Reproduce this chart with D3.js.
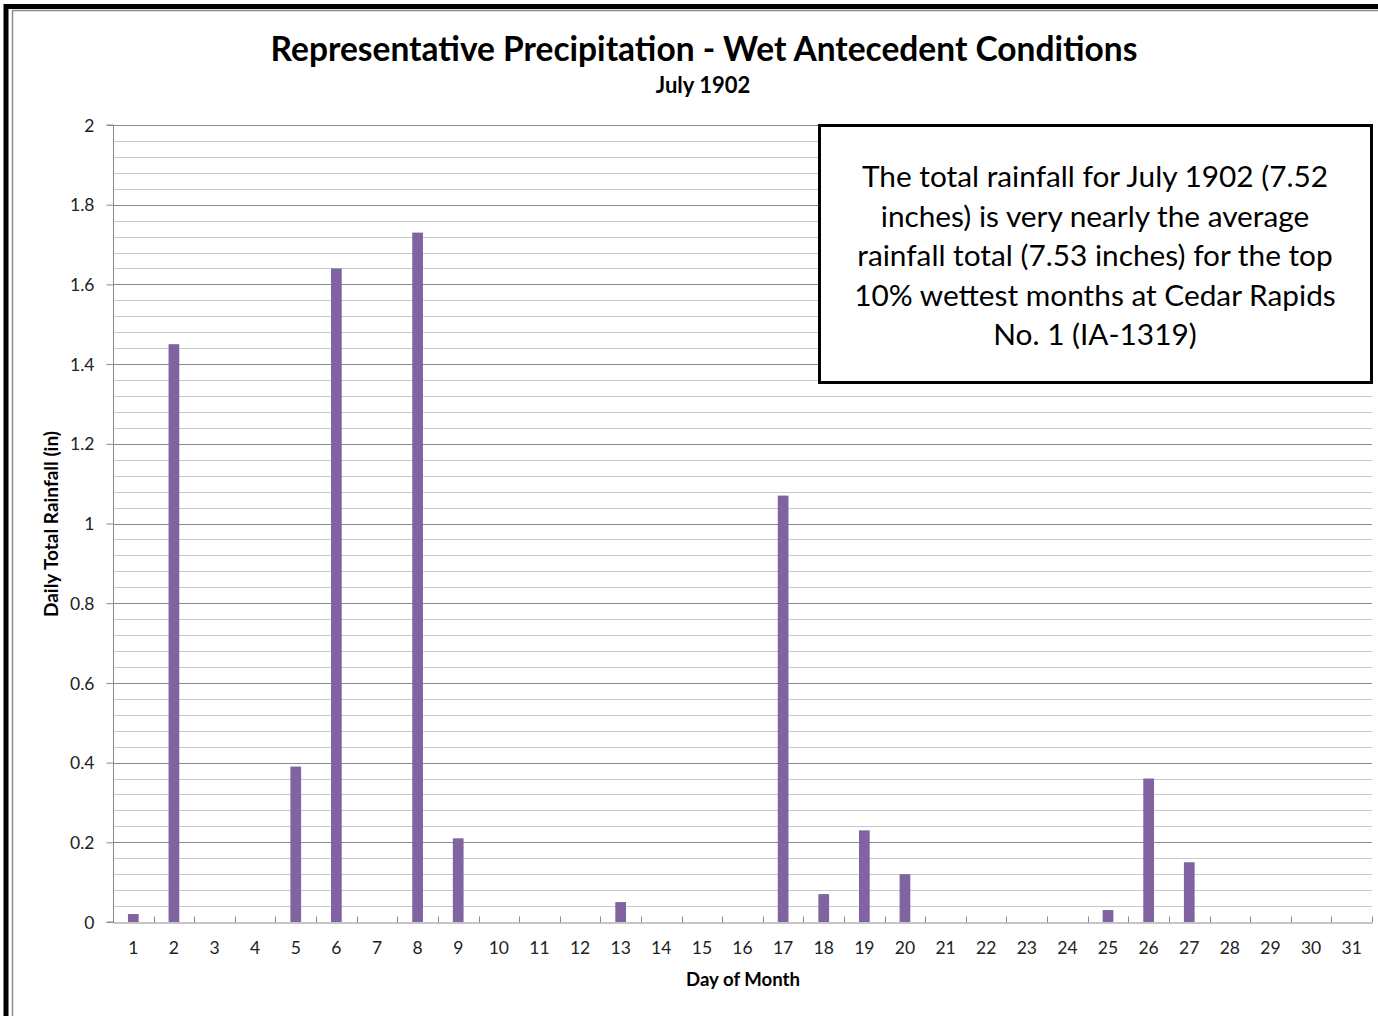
<!DOCTYPE html>
<html>
<head>
<meta charset="utf-8">
<script src="https://cdn.jsdelivr.net/npm/d3@7"></script>
<style>
  body { margin: 0; background: #fff; }
  svg text { font-family: Lato, "Open Sans", sans-serif; }
</style>
</head>
<body>
<div id="chart"></div>
<script>
document.addEventListener("DOMContentLoaded", function () {
  const width = 1378,
      height = 1016;

  // daily rainfall, July 1902 (inches)
  const days = d3.range(1, 32).map(String);
  const rainfall = [0.02, 1.45, 0, 0, 0.39, 1.64, 0, 1.73, 0.21, 0, 0, 0, 0.05, 0, 0, 0,
    1.07, 0.07, 0.23, 0.12, 0, 0, 0, 0, 0.03, 0.36, 0.15, 0, 0, 0, 0];
  const majorTicks = [0, 0.2, 0.4, 0.6, 0.8, 1, 1.2, 1.4, 1.6, 1.8, 2];
  const minorTicks = d3.range(0, 2.001, 0.04);
  const noteLines = [
    "The total rainfall for July 1902 (7.52",
    "inches) is very nearly the average",
    "rainfall total (7.53 inches) for the top",
    "10% wettest months at Cedar Rapids",
    "No. 1 (IA-1319)"
  ];

  const margin = { top: 125, right: 6, bottom: 94, left: 113 };

  const svg = d3.select("#chart").append("svg")
      .attr("width", width)
      .attr("height", height);

  // outer frame (top and left visible)
  svg.append("path")
      .attr("d", `M6,${height} V6.5 H${width}`)
      .attr("fill", "none")
      .attr("stroke", "#000")
      .attr("stroke-width", 5);
  svg.append("path")
      .attr("d", `M12.5,${height} V10.5 H${width}`)
      .attr("fill", "none")
      .attr("stroke", "#8c8c8c")
      .attr("stroke-width", 1.5);

  const x = d3.scaleBand()
      .domain(days)
      .range([margin.left, width - margin.right])
      .paddingInner(0.736)
      .paddingOuter(0.368);

  const y = d3.scaleLinear()
      .domain([0, 2])
      .range([height - margin.bottom, margin.top]);

  // minor gridlines
  svg.append("g")
    .selectAll("line")
    .data(minorTicks.filter(v => Math.abs(v / 0.2 - Math.round(v / 0.2)) > 1e-6))
    .enter().append("line")
      .attr("x1", margin.left)
      .attr("x2", width - margin.right)
      .attr("y1", d => Math.round(y(d)) + 0.5)
      .attr("y2", d => Math.round(y(d)) + 0.5)
      .attr("stroke", "#c8c8c8");

  // major gridlines
  svg.append("g")
    .selectAll("line")
    .data(majorTicks.slice(1))
    .enter().append("line")
      .attr("x1", margin.left)
      .attr("x2", width - margin.right)
      .attr("y1", d => Math.round(y(d)) + 0.5)
      .attr("y2", d => Math.round(y(d)) + 0.5)
      .attr("stroke", "#8a8a8a");

  // bars
  svg.append("g")
    .selectAll("rect")
    .data(rainfall.map((v, i) => ({ day: days[i], value: v })).filter(d => d.value > 0))
    .enter().append("rect")
      .attr("x", d => x(d.day))
      .attr("y", d => y(d.value))
      .attr("width", x.bandwidth())
      .attr("height", d => y(0) - y(d.value))
      .attr("fill", "#8064a2");

  // y axis
  const yAxis = svg.append("g")
      .attr("transform", `translate(${margin.left + 0.5},0)`)
      .call(d3.axisLeft(y).tickValues(majorTicks).tickFormat(d3.format("")).tickSize(7).tickPadding(12));
  yAxis.select(".domain").attr("stroke", "#8a8a8a").attr("d", `M-7,${y(2)}H0V${y(0)}H-7`);
  yAxis.selectAll(".tick line").attr("stroke", "#8a8a8a");
  yAxis.selectAll(".tick text")
      .attr("font-size", 17.5)
      .attr("fill", "#222")
      .attr("dy", "0.35em");

  // x axis
  const x0 = margin.left, step = x.step();
  const xAxis = svg.append("g")
      .attr("transform", `translate(0,${Math.round(y(0)) + 0.5})`)
      .call(d3.axisBottom(x).tickSize(0).tickPadding(19));
  xAxis.select(".domain").attr("stroke", "#8a8a8a");
  xAxis.selectAll(".tick text")
      .attr("font-size", 17.5)
      .attr("fill", "#222");
  xAxis.append("g")
    .selectAll("line")
    .data(d3.range(days.length + 1))
    .enter().append("line")
      .attr("x1", i => Math.round(x0 + i * step) + 0.5)
      .attr("x2", i => Math.round(x0 + i * step) + 0.5)
      .attr("y1", 0)
      .attr("y2", -6)
      .attr("stroke", "#8a8a8a");

  // titles
  svg.append("text")
      .attr("x", 704)
      .attr("y", 61)
      .attr("text-anchor", "middle")
      .attr("font-size", 33.5)
      .attr("font-weight", "bold")
      .attr("fill", "#000")
      .text("Representative Precipitation - Wet Antecedent Conditions");

  svg.append("text")
      .attr("x", 703)
      .attr("y", 93)
      .attr("text-anchor", "middle")
      .attr("font-size", 22)
      .attr("font-weight", "bold")
      .attr("fill", "#000")
      .text("July 1902");

  svg.append("text")
      .attr("x", 743)
      .attr("y", 986)
      .attr("text-anchor", "middle")
      .attr("font-size", 18.6)
      .attr("font-weight", "bold")
      .attr("fill", "#000")
      .text("Day of Month");

  svg.append("text")
      .attr("transform", "translate(58,524) rotate(-90)")
      .attr("text-anchor", "middle")
      .attr("font-size", 19)
      .attr("font-weight", "bold")
      .attr("fill", "#000")
      .text("Daily Total Rainfall (in)");

  // annotation box
  svg.append("rect")
      .attr("x", 819.5)
      .attr("y", 125.5)
      .attr("width", 552)
      .attr("height", 257)
      .attr("fill", "#fff")
      .attr("stroke", "#000")
      .attr("stroke-width", 3);

  svg.append("g")
    .selectAll("text")
    .data(noteLines)
    .enter().append("text")
      .attr("x", 1095)
      .attr("y", (d, i) => 187 + i * 39.5)
      .attr("text-anchor", "middle")
      .attr("font-size", 29.8)
      .attr("fill", "#000")
      .text(d => d);
});
</script>
</body>
</html>
